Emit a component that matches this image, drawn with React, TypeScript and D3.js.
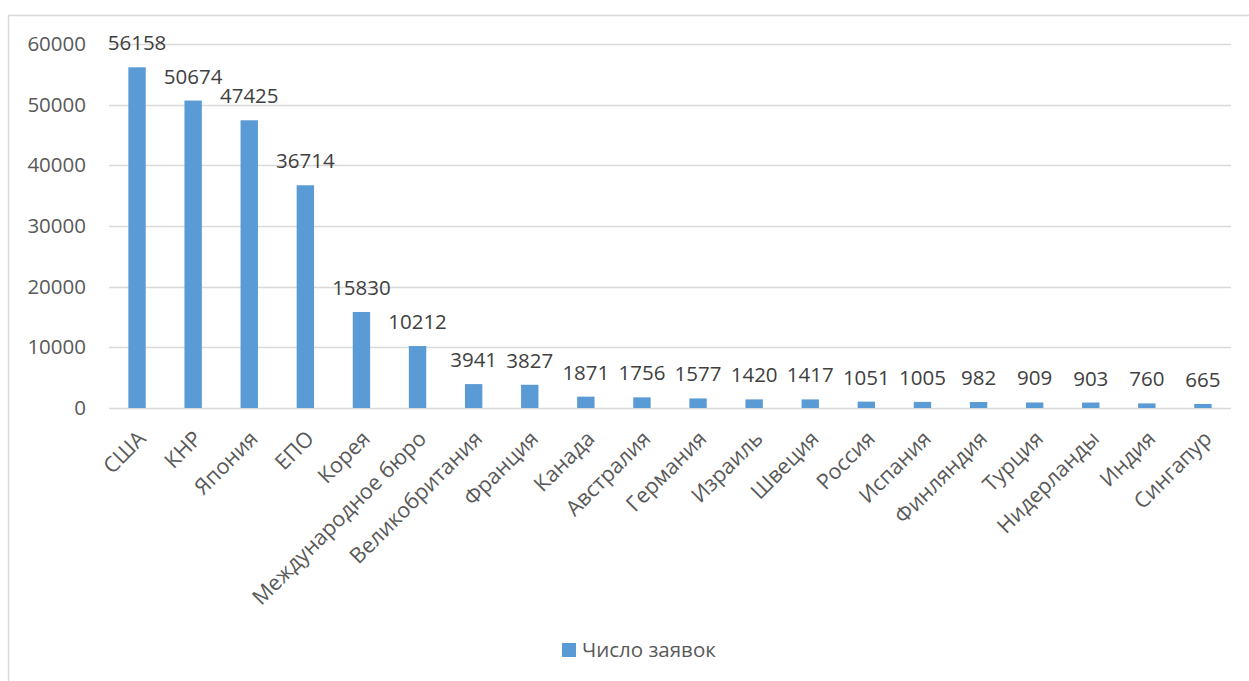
import * as d3 from "d3";
import React, {useEffect, useRef} from "react";

const categories = [
  'США', 'КНР', 'Япония', 'ЕПО', 'Корея', 'Международное бюро', 'Великобритания',
  'Франция', 'Канада', 'Австралия', 'Германия', 'Израиль', 'Швеция', 'Россия',
  'Испания', 'Финляндия', 'Турция', 'Нидерланды', 'Индия', 'Сингапур'
];
const applications = [
  56158, 50674, 47425, 36714, 15830, 10212, 3941, 3827, 1871, 1756,
  1577, 1420, 1417, 1051, 1005, 982, 909, 903, 760, 665
];
const yTicks = [0, 10000, 20000, 30000, 40000, 50000, 60000];
const seriesName = 'Число заявок';

const App: React.FC = () => {
  const ref = useRef<SVGSVGElement | null>(null);

  useEffect(() => {
    const width = 1249;
    const height = 681;
    const svg = d3.select(ref.current);
    svg.selectAll('*').remove();
    svg.attr('width', width).attr('height', height);

    const font = "'Open Sans', 'Noto Sans', sans-serif";
    const barColor = '#5B9BD5';

    // chart frame
    svg.append('rect')
      .attr('x', 8.5)
      .attr('y', 15.5)
      .attr('width', 1260)
      .attr('height', 700)
      .attr('fill', '#fff')
      .attr('stroke', '#D9D9D9')
      .attr('stroke-width', 1.5);

    const xScale = d3.scaleBand()
      .domain(categories)
      .range([109, 1231])
      .paddingInner(0.69)
      .paddingOuter(0.345);

    const yScale = d3.scaleLinear()
      .domain([0, 60000])
      .range([408, 44]);

    // grid
    svg.append('g')
      .selectAll('line')
      .data(yTicks)
      .enter()
      .append('line')
      .attr('x1', 109)
      .attr('x2', 1231)
      .attr('y1', (d) => Math.round(yScale(d)) + 0.5)
      .attr('y2', (d) => Math.round(yScale(d)) + 0.5)
      .attr('stroke', '#D9D9D9')
      .attr('stroke-width', 1.5);

    // y tick labels
    svg.append('g')
      .selectAll('text')
      .data(yTicks)
      .enter()
      .append('text')
      .attr('x', 86)
      .attr('y', (d) => yScale(d) + 7)
      .attr('text-anchor', 'end')
      .attr('fill', '#595959')
      .style('font-family', font)
      .style('font-size', '20.5px')
      .text((d) => d);

    // bars
    svg.append('g')
      .selectAll('rect')
      .data(applications)
      .enter()
      .append('rect')
      .attr('x', (d, i) => xScale(categories[i])!)
      .attr('y', (d) => yScale(d))
      .attr('width', xScale.bandwidth())
      .attr('height', (d) => yScale(0) - yScale(d))
      .attr('fill', barColor);

    // value labels
    svg.append('g')
      .selectAll('text')
      .data(applications)
      .enter()
      .append('text')
      .attr('x', (d, i) => xScale(categories[i])! + xScale.bandwidth() / 2)
      .attr('y', (d) => yScale(d) - 17)
      .attr('text-anchor', 'middle')
      .attr('fill', '#404040')
      .style('font-family', font)
      .style('font-size', '20.5px')
      .text((d) => d);

    // category labels
    svg.append('g')
      .selectAll('text')
      .data(categories)
      .enter()
      .append('text')
      .attr('text-anchor', 'end')
      .attr('transform', (d) => `translate(${xScale(d)! + xScale.bandwidth() / 2 + 10}, 440) rotate(-45)`)
      .attr('fill', '#595959')
      .style('font-family', font)
      .style('font-size', '21.5px')
      .text((d) => d);

    // legend
    const legend = svg.append('g');
    legend.append('rect')
      .attr('x', 562)
      .attr('y', 643)
      .attr('width', 14)
      .attr('height', 14)
      .attr('fill', barColor);
    legend.append('text')
      .attr('x', 582)
      .attr('y', 657)
      .attr('fill', '#595959')
      .style('font-family', font)
      .style('font-size', '20.5px')
      .text(seriesName);

    return () => {
      svg.selectAll('*').remove();
    };
  }, []);

  return <svg ref={ref} style={{position: 'absolute', left: 0, top: 0}}/>;
};

export default App;
